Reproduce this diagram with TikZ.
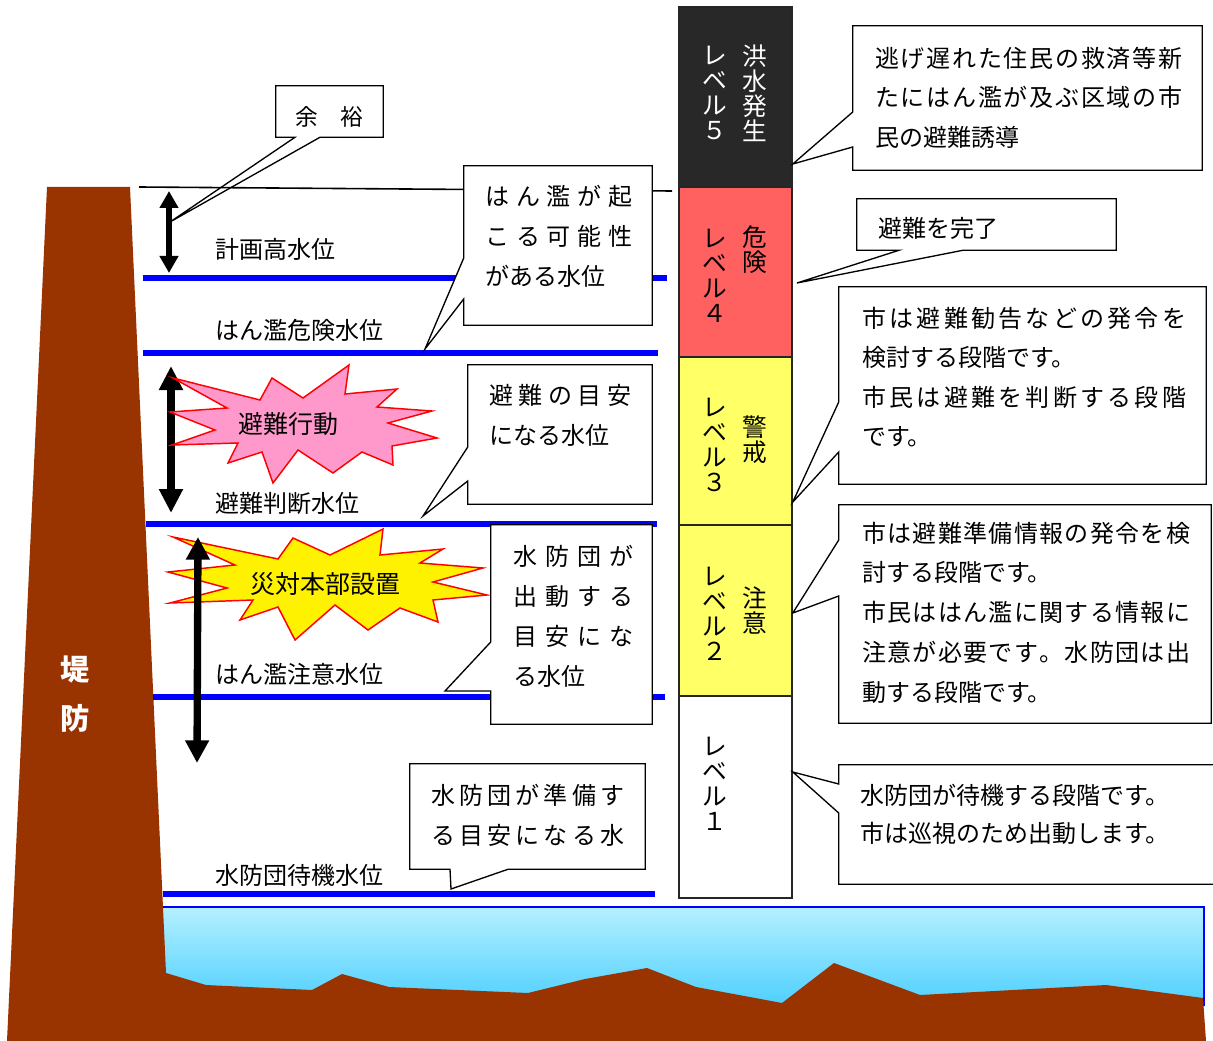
\documentclass[tikz,border=0pt]{standalone}
\usepackage{fontspec}
\setmainfont{Noto Sans CJK JP}
\usetikzlibrary{arrows.meta,calc,fit}
\definecolor{Soil}{HTML}{993300}
\definecolor{WaterTop}{HTML}{B5F0FF}
\definecolor{WaterBot}{HTML}{4DCFFF}
\definecolor{Flood}{HTML}{0000FF}
\definecolor{Burst}{HTML}{FF0000}
\definecolor{Pink}{HTML}{FF99CC}
\definecolor{Lv5}{HTML}{282828}
\definecolor{Lv4}{HTML}{FF6161}
\definecolor{Lv3}{HTML}{FFFF66}

\newlength\pxu \setlength\pxu{0.75pt}
\makeatletter
\newcommand\jspread[2]{\hbox to #1\pxu{\jsp@#2\@nil}}
\def\jsp@#1#2\@nil{#1\ifx\relax#2\relax\else\hfil\jsp@#2\@nil\fi}
\makeatother

\tikzset{
  level line/.style={Flood,line width=4.5pt},
  wlabel/.style={inner sep=0pt,anchor=west,font=\fontsize{18}{18}\selectfont},
  gauge/.style={draw=black!85,line width=1.2pt,inner sep=0pt},
  vtext/.style={inner sep=0pt,align=center,font=\fontsize{18.5}{18.75}\selectfont},
  callbox/.style={inner sep=0pt},
  callout/.style={draw=black,fill=white,line width=1pt},
  note/.style={inner sep=0pt,anchor=west,align=left,font=\fontsize{18}{30}\selectfont},
  burst/.style={draw=Burst,line width=1.1pt},
  twohead/.style n args={3}{line width=#1,{Triangle[width=#2,length=#3]}-{Triangle[width=#2,length=#3]}}
}

\begin{document}
\begin{tikzpicture}[x=0.75pt,y=-0.75pt]
\useasboundingbox (0,0) rectangle (1213,1041);

\shade[top color=WaterTop,bottom color=WaterBot] (150,907) rectangle (1204,1006);
\draw[Flood,line width=1.2pt] (150,907) -- (1204,907) -- (1204,1006);
\fill[Soil] (47,187) -- (130,187) -- (166,973) -- (206,985) -- (312,990) -- (342,974) -- (389,987)
  -- (528,993) -- (585,979) -- (647,968) -- (696,987) -- (782,1003) -- (834,963) -- (920,995)
  -- (1106,985) -- (1203,998) -- (1206,1041) -- (7,1041) -- cycle;
\node[inner sep=0pt,align=center,text=white,font=\fontsize{22}{36.75}\selectfont\bfseries] (bank) at (75.5,694.5) {堤\\防};

% 余裕
\node[callbox,fit={(276,86) (383,137)}] (bYoyu) {};
\coordinate (tYoyu) at (170,222);
\draw[callout] (bYoyu.north west) -- (bYoyu.north east) -- (bYoyu.south east) -- (bYoyu.south -| 320,0) -- (tYoyu) -- (bYoyu.south -| 295,0) -- (bYoyu.south west) -- cycle;
\node[inner sep=0pt,font=\fontsize{17}{20}\selectfont] (yoyu) at (329.5,117) {余　裕};
\draw[line width=1.2pt] (139,187) -- (672,191);

\foreach \y/\a/\b in {278/143/667,353/143/658,524/146/657,697/153/665,894/163/655}
  \draw[level line] (\a,\y) -- (\b,\y);

\node[wlabel] (hwl) at (215,249) {計画高水位};
\node[wlabel] (dwl) at (215,330) {はん濫危険水位};
\node[wlabel] (ewl) at (215,503) {避難判断水位};
\node[wlabel] (cwl) at (215,674) {はん濫注意水位};
\node[wlabel] (swl) at (215,875) {水防団待機水位};

\draw[twohead={4.5pt}{13.5pt}{12.75pt}] (169,191) -- (169,273);
\draw[twohead={5.5pt}{17pt}{18pt}] (171,366) -- (171,513);
\filldraw[burst,fill=Pink] (173,378) -- (260,400) -- (272,378) -- (303,398) -- (349,365) -- (345,394)
  -- (397,389) -- (377,407) -- (432,411) -- (388,423) -- (437,438) -- (392,446) -- (393,465)
  -- (362,452) -- (333,473) -- (298,450) -- (273,483) -- (262,452) -- (228,463) -- (238,443)
  -- (172,445) -- (215,430) -- (170,412) -- (227,408) -- cycle;
\node[inner sep=0pt,font=\fontsize{18.75}{20}\selectfont] (action) at (288,424) {避難行動};

\filldraw[burst,fill=yellow] (173,537) -- (278,559) -- (293,538) -- (330,555) -- (383,529) -- (380,555)
  -- (443,549) -- (420,563) -- (483,568) -- (433,582) -- (487,595) -- (433,600) -- (438,622)
  -- (400,608) -- (368,630) -- (335,605) -- (295,640) -- (278,607) -- (240,620) -- (253,600)
  -- (170,603) -- (227,588) -- (168,572) -- (235,565) -- cycle;
\node[inner sep=0pt,font=\fontsize{18.75}{20}\selectfont] (hq) at (325,584) {災対本部設置};
\draw[twohead={5.5pt}{17pt}{17pt}] (198,537) -- (197,763);

\node[gauge,fill=Lv5,fit={(679,7) (792,187)}] (lv5) {};
\node[gauge,fill=Lv4,fit={(679,187) (792,357)}] (lv4) {};
\node[gauge,fill=Lv3,fit={(679,357) (792,525)}] (lv3) {};
\node[gauge,fill=Lv3,fit={(679,525) (792,696)}] (lv2) {};
\node[gauge,fill=white,fit={(679,696) (792,898)}] (lv1) {};
\node[vtext,text=white] (lv5a) at (715,92.5) {レ\\ベ\\ル\\５};
\node[vtext,text=white] (lv5b) at (755,93) {洪\\水\\発\\生};
\node[vtext] (lv4a) at (715,275.5) {レ\\ベ\\ル\\４};
\node[vtext] (lv4b) at (755,249.5) {危\\険};
\node[vtext] (lv3a) at (715,444.5) {レ\\ベ\\ル\\３};
\node[vtext] (lv3b) at (755,440) {警\\戒};
\node[vtext] (lv2a) at (715,613.5) {レ\\ベ\\ル\\２};
\node[vtext] (lv2b) at (755,610.5) {注\\意};
\node[vtext] (lv1a) at (715,783.5) {レ\\ベ\\ル\\１};

% callouts on the left
\node[callbox,fit={(464,166) (652,325)}] (bKiken) {};
\coordinate (tKiken) at (425,349);
\draw[callout] (bKiken.north west) -- (bKiken.north east) -- (bKiken.south east) -- (bKiken.south west) -- (bKiken.west |- 0,299) -- (tKiken) -- (bKiken.west |- 0,258) -- cycle;
\node[note] (kiken) at (485,236) {\jspread{147}{はん濫が起}\\ \jspread{147}{こる可能性}\\ がある水位};

\node[callbox,fit={(468,365) (652,504)}] (bHandan) {};
\coordinate (tHandan) at (423,516);
\draw[callout] (bHandan.north west) -- (bHandan.north east) -- (bHandan.south east) -- (bHandan.south west) -- (bHandan.west |- 0,481) -- (tHandan) -- (bHandan.west |- 0,447) -- cycle;
\node[note] (handan) at (489,415) {\jspread{142}{避難の目安}\\ になる水位};

\node[callbox,fit={(491,525) (652,724)}] (bChui) {};
\coordinate (tChui) at (445,691);
\draw[callout] (bChui.north west) -- (bChui.north east) -- (bChui.south east) -- (bChui.south west) -- (bChui.west |- 0,691) -- (tChui) -- (bChui.west |- 0,642) -- cycle;
\node[note] (chui) at (513,616.5) {\jspread{120}{水防団が}\\ \jspread{120}{出動する}\\ \jspread{120}{目安にな}\\ る水位};

\node[callbox,fit={(410,764) (645,869)}] (bTaiki) {};
\coordinate (tTaiki) at (451,889);
\draw[callout] (bTaiki.north west) -- (bTaiki.north east) -- (bTaiki.south east) -- (bTaiki.south -| 508,0) -- (tTaiki) -- (bTaiki.south -| 450,0) -- (bTaiki.south west) -- cycle;
\node[note] (taiki) at (431,815.5) {\jspread{193}{水防団が準備す}\\ \jspread{193}{る目安になる水}};

% callouts on the right
\node[callbox,fit={(853,26) (1202,170)}] (bLv5) {};
\coordinate (tLv5) at (lv5.east |- 0,164);
\draw[callout] (bLv5.north west) -- (bLv5.north east) -- (bLv5.south east) -- (bLv5.south west) -- (bLv5.west |- 0,147) -- (tLv5) -- (bLv5.west |- 0,112) -- cycle;
\node[note,font=\fontsize{18}{29.6}\selectfont] (nLv5) at (875,97.5) {\jspread{307}{逃げ遅れた住民の救済等新}\\ \jspread{307}{たにはん濫が及ぶ区域の市}\\ 民の避難誘導};

\node[callbox,fit={(857,199) (1116,250)}] (bLv4) {};
\coordinate (tLv4) at (797,283);
\draw[callout] (bLv4.north west) -- (bLv4.north east) -- (bLv4.south east) -- (bLv4.south -| 963,0) -- (tLv4) -- (bLv4.south -| 899,0) -- (bLv4.south west) -- cycle;
\node[note] (nLv4) at (878,228) {避難を完了};

\node[callbox,fit={(839,287) (1206,484)}] (bLv3) {};
\coordinate (tLv3) at (lv3.east |- 0,502);
\draw[callout] (bLv3.north west) -- (bLv3.north east) -- (bLv3.south east) -- (bLv3.south west) -- (bLv3.west |- 0,452) -- (tLv3) -- (bLv3.west |- 0,402) -- cycle;
\node[note,font=\fontsize{18}{29.5}\selectfont] (nLv3) at (862,377) {\jspread{324}{市は避難勧告などの発令を}\\ 検討する段階です。\\ \jspread{324}{市民は避難を判断する段階}\\ です。};

\node[callbox,fit={(839,505) (1211,723)}] (bLv2) {};
\coordinate (tLv2) at (lv2.east |- 0,613);
\draw[callout] (bLv2.north west) -- (bLv2.north east) -- (bLv2.south east) -- (bLv2.south west) -- (bLv2.west |- 0,596) -- (tLv2) -- (bLv2.west |- 0,540) -- cycle;
\node[note,font=\fontsize{18}{29.8}\selectfont] (nLv2) at (862,612.5) {\jspread{328}{市は避難準備情報の発令を検}\\ 討する段階です。\\ \jspread{328}{市民ははん濫に関する情報に}\\ \jspread{328}{注意が必要です。水防団は出}\\ 動する段階です。};

\node[callbox,fit={(839,765) (1214,884)}] (bLv1) {};
\coordinate (tLv1) at (lv1.east |- 0,772);
\draw[callout] (bLv1.north west) -- (bLv1.north east) -- (bLv1.south east) -- (bLv1.south west) -- (bLv1.west |- 0,813) -- (tLv1) -- (bLv1.west |- 0,784) -- cycle;
\node[note,font=\fontsize{18}{28.5}\selectfont] (nLv1) at (860,814) {水防団が待機する段階です。\\ 市は巡視のため出動します。};
\end{tikzpicture}
\end{document}
